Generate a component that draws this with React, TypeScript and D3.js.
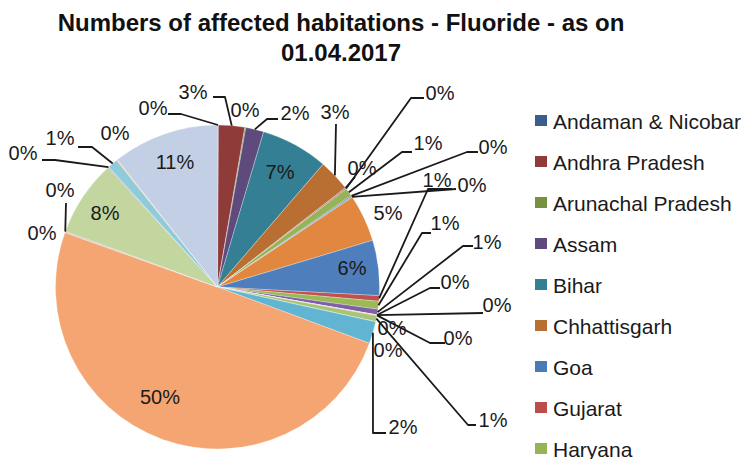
import React from "react";
import * as d3 from "d3";

// Share of fluoride-affected habitations by State / UT (per cent of national total)
const STATES = [
  "Andaman & Nicobar", "Andhra Pradesh", "Arunachal Pradesh", "Assam", "Bihar",
  "Chhattisgarh", "Goa", "Gujarat", "Haryana", "Himachal Pradesh",
  "Jammu & Kashmir", "Jharkhand", "Karnataka", "Kerala", "Madhya Pradesh",
  "Maharashtra", "Manipur", "Meghalaya", "Mizoram", "Nagaland",
  "Odisha", "Puducherry", "Punjab", "Rajasthan", "Sikkim",
  "Tamil Nadu", "Telangana", "Tripura", "Uttar Pradesh", "Uttarakhand",
  "West Bengal",
];

const SHARES = [
  0.1, 2.6, 0.1, 1.8, 6.7,
  3.2, 0.05, 0.1, 0.8, 0.1,
  0.1, 4.7, 5.5, 0.55, 0.8,
  0.55, 0.02, 0.02, 0.02, 0.02,
  0.6, 0.02, 2.2, 49.8, 0.05,
  0.1, 7.6, 0.1, 1.0, 0.1,
  10.6,
];

const TITLE_LINES = ["Numbers of affected habitations - Fluoride - as on", "01.04.2017"];

// Office-style accent colours, from dark shades to light tints, six per tier
const TIER_COLORS = [
  ["#3A5F8F", "#8F3B39", "#77913F", "#5E4A7C", "#347F93", "#B96F32"],
  ["#4A7BB7", "#BB4D4A", "#94B455", "#7B60A0", "#48A5C0", "#E2873F"],
  ["#4E7EBB", "#C0504D", "#99BA55", "#7F60A8", "#4BACC6", "#F79646"],
  ["#6F97C8", "#CB6F6D", "#A9C474", "#9680B2", "#61B5D3", "#F4A572"],
  ["#94B2D6", "#D79694", "#C3D69F", "#B3A2C7", "#8ECCDB", "#FAC090"],
  ["#C3CFE4", "#E6B9B8", "#D7E4BD", "#CCC1DA", "#B7DEE8", "#FCD5B5"],
];

// Label placement: text centre and the leader bends that lead back to the slice edge
type Placement = { at: [number, number]; via?: [number, number][] };
const LABEL_LAYOUT: Record<string, Placement> = {
  "Andaman & Nicobar": { at: [153, 108], via: [[168, 114], [181, 114]] },
  "Andhra Pradesh": { at: [193, 92], via: [[213, 97], [225, 97]] },
  "Arunachal Pradesh": { at: [245, 110] },
  "Assam": { at: [295, 113], via: [[278, 119], [267, 119]] },
  "Bihar": { at: [280, 172] },
  "Chhattisgarh": { at: [335, 112], via: [[336, 124]] },
  "Goa": { at: [362, 168], via: [[355, 177]] },
  "Gujarat": { at: [440, 93], via: [[424, 98], [411, 98]] },
  "Haryana": { at: [428, 143], via: [[412, 152], [402, 152]] },
  "Himachal Pradesh": { at: [493, 147], via: [[478, 152], [467, 152]] },
  "Jammu & Kashmir": { at: [472, 185], via: [[456, 189]] },
  "Jharkhand": { at: [388, 213] },
  "Karnataka": { at: [352, 268] },
  "Kerala": { at: [437, 180], via: [[452, 189], [428, 189]] },
  "Madhya Pradesh": { at: [445, 223], via: [[431, 233], [422, 233]] },
  "Maharashtra": { at: [487, 242], via: [[473, 246], [463, 246]] },
  "Manipur": { at: [455, 282], via: [[440, 288], [430, 288]] },
  "Meghalaya": { at: [497, 305], via: [[483, 313]] },
  "Mizoram": { at: [458, 338], via: [[445, 343], [430, 343]] },
  "Nagaland": { at: [392, 328] },
  "Odisha": { at: [493, 420], via: [[476, 425], [468, 425]] },
  "Puducherry": { at: [388, 350] },
  "Punjab": { at: [403, 427], via: [[386, 433], [373, 433]] },
  "Rajasthan": { at: [160, 397] },
  "Sikkim": { at: [42, 233] },
  "Tamil Nadu": { at: [60, 190], via: [[66, 203]] },
  "Telangana": { at: [105, 213] },
  "Tripura": { at: [23, 153], via: [[42, 160], [55, 160]] },
  "Uttar Pradesh": { at: [60, 138], via: [[78, 147], [92, 147]] },
  "Uttarakhand": { at: [115, 133] },
  "West Bengal": { at: [175, 162] },
};

const W = 745;
const H = 459;
const CX = 217.5;
const CY = 287;
const R = 162;
const FONT = "'Liberation Sans', Arial, Helvetica, sans-serif";

const colorOf = (i: number) => TIER_COLORS[Math.floor(i / 6)][i % 6];

export default function App() {
  const total = d3.sum(SHARES);
  const pie = d3
    .pie<number>()
    .sort(null)
    .value((d) => d)
    .startAngle(0)
    .endAngle(2 * Math.PI);
  const arcs = pie(SHARES);
  const arc = d3.arc<d3.PieArcDatum<number>>().innerRadius(0).outerRadius(R);

  const edgePoint = (a: d3.PieArcDatum<number>): [number, number] => {
    const mid = (a.startAngle + a.endAngle) / 2;
    return [CX + R * Math.sin(mid), CY - R * Math.cos(mid)];
  };

  const legendY = d3.scalePoint<string>().domain(STATES).range([121, 121 + 41 * (STATES.length - 1)]);
  // the legend box only has room for the entries that fit above the bottom edge
  const legendShown = STATES.filter((s) => (legendY(s) as number) < H);

  const line = d3.line();

  return (
    <svg
      width={W}
      height={H}
      viewBox={`0 0 ${W} ${H}`}
      style={{ position: "absolute", left: 0, top: 0, background: "#fff" }}
      fontFamily={FONT}
    >
      <rect width={W} height={H} fill="#fff" />
      {TITLE_LINES.map((t, i) => (
        <text
          key={t}
          x={341}
          y={22 + i * 30}
          textAnchor="middle"
          dominantBaseline="central"
          fontSize={24}
          fontWeight="bold"
          fill="#111"
        >
          {t}
        </text>
      ))}

      <g transform={`translate(${CX},${CY})`}>
        {arcs.map((a, i) => (
          <path key={STATES[i]} d={arc(a) || ""} fill={colorOf(i)} stroke="#fff" strokeWidth={0.4} strokeOpacity={0.7} />
        ))}
      </g>

      {arcs.map((a, i) => {
        const place = LABEL_LAYOUT[STATES[i]];
        if (!place || !place.via) return null;
        const pts: [number, number][] = [...place.via, edgePoint(a)];
        return (
          <path key={"l" + i} d={line(pts) || ""} fill="none" stroke="#1a1a1a" strokeWidth={1.8} strokeLinejoin="round" />
        );
      })}

      {arcs.map((a, i) => {
        const place = LABEL_LAYOUT[STATES[i]];
        if (!place) return null;
        const pct = Math.round((a.value / total) * 100);
        return (
          <text
            key={"t" + i}
            x={place.at[0]}
            y={place.at[1]}
            textAnchor="middle"
            dominantBaseline="central"
            fontSize={20}
            fill="#1a1a1a"
          >
            {pct}%
          </text>
        );
      })}

      {legendShown.map((s) => {
        const i = STATES.indexOf(s);
        const y = legendY(s) as number;
        return (
          <g key={"g" + s}>
            <rect x={535} y={y - 6} width={12} height={11} fill={colorOf(i)} />
            <text x={553} y={y} dominantBaseline="central" fontSize={21} fill="#1a1a1a">
              {s}
            </text>
          </g>
        );
      })}
    </svg>
  );
}
